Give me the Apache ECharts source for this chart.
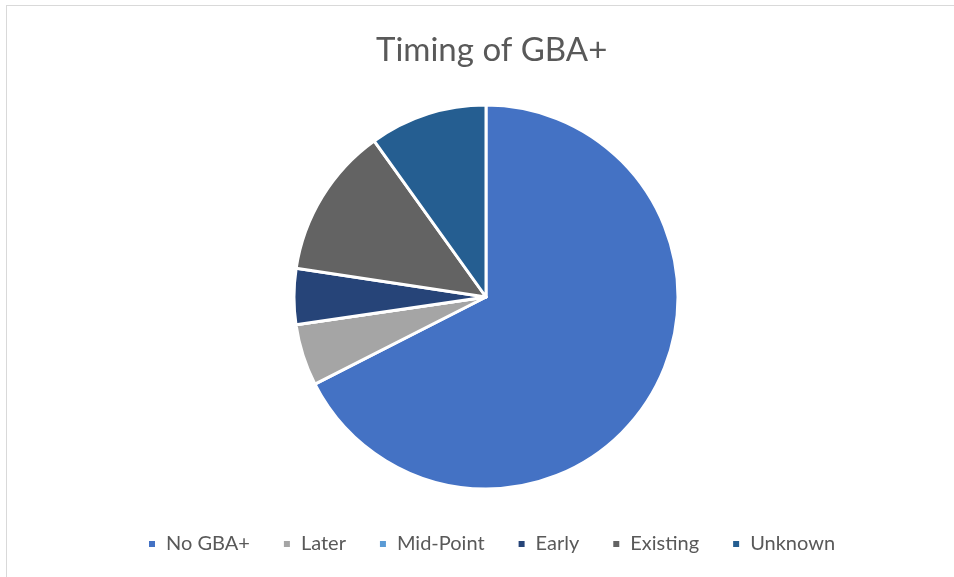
<!DOCTYPE html>
<html>
<head>
<meta charset="utf-8">
<script src="https://cdn.jsdelivr.net/npm/echarts@6/dist/echarts.min.js"></script>
<style>
	html, body { margin: 0; padding: 0; background: #fff; }
	#frame { position: absolute; left: 6px; top: 5px; width: 960px; height: 580px; border: 1px solid #d9d9d9; box-sizing: border-box; }
	#chart { position: absolute; left: 0; top: 0; width: 954px; height: 577px; }
</style>
</head>
<body>
<div id="frame"></div>
<div id="chart"></div>
<script>
var categories = [ 'No GBA+', 'Later', 'Mid-Point', 'Early', 'Existing', 'Unknown' ];
var values = [ 67.5, 5.2, 0, 4.7, 12.7, 9.9 ];
var colors = [ '#4472C4', '#A5A5A5', '#5B9BD5', '#264478', '#636363', '#255E91' ];

var pieChart = echarts.init(document.getElementById('chart'));
var ydata = [];
for (var i = 0; i < categories.length; i++) {
	ydata.push({
		value : values[i],
		name : categories[i],
		itemStyle : { color : colors[i] }
	});
}
var option = {
	animation : false,
	title : {
		text : 'Timing of GBA+',
		left : 371,
		top : 29,
		textStyle : {
			fontFamily : 'Lato',
			fontWeight : 'normal',
			fontSize : 33,
			color : '#595959'
		}
	},
	legend : {
		left : 142,
		top : 529,
		icon : 'rect',
		itemWidth : 8,
		itemHeight : 8,
		itemGap : 32,
		textStyle : {
			fontFamily : 'Lato',
			fontSize : 20,
			color : '#595959',
			padding : [ 0, 0, 0, 5 ]
		},
		data : categories
	},
	series : [ {
		name : 'Timing of GBA+',
		type : 'pie',
		radius : 192,
		center : [ 486, 297 ],
		startAngle : 90,
		clockwise : true,
		label : { show : false },
		labelLine : { show : false },
		itemStyle : {
			borderColor : '#ffffff',
			borderWidth : 3
		},
		data : ydata
	} ]
};
pieChart.setOption(option);
</script>
</body>
</html>
